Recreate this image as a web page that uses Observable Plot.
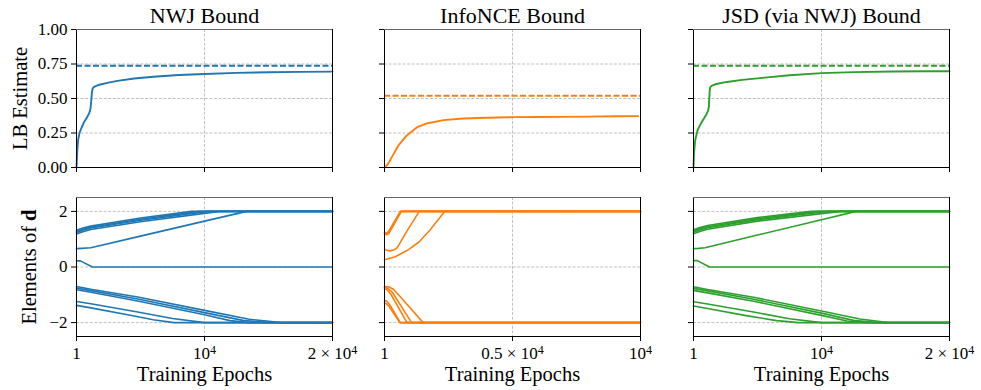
<!DOCTYPE html>
<html>
<head>
<meta charset="utf-8">
<script src="https://cdn.jsdelivr.net/npm/d3@7"></script>
<script src="https://cdn.jsdelivr.net/npm/@observablehq/plot@0.6"></script>
<style>
  body { margin: 0; background: #fff; }
  #fig { position: relative; width: 981px; height: 390px; overflow: hidden; font-family: "Liberation Serif", serif; }
  #fig svg { position: absolute; }
</style>
</head>
<body>
<div id="fig"></div>
<script>
// ---------- labels ----------
const titles = ["NWJ Bound", "InfoNCE Bound", "JSD (via NWJ) Bound"];
const colors = ["#1f77b4", "#ff7f0e", "#2ca02c"];
const xMax = [20000, 10000, 20000];
const xTicks = [[1, 10000, 20000], [1, 5000, 10000], [1, 10000, 20000]];
const xTickLabels = [["1", "10^4", "2 × 10^4"], ["1", "0.5 × 10^4", "10^4"], ["1", "10^4", "2 × 10^4"]];
const lbTicks = [0, 0.25, 0.5, 0.75, 1.0];
const dTicks = [-2, 0, 2];
const topYLabel = "LB Estimate";
const bottomYLabel = "Elements of d";
const xLabel = "Training Epochs";

// ---------- top row: lower-bound estimates ----------
const trueValue = [0.737, 0.52, 0.738];

const nwjEpoch = [1, 60, 130, 235, 400, 600, 800, 1000, 1100, 1150, 1200, 1260, 1350, 1500, 1800, 2500, 3200, 4500, 6000, 8000, 10000, 12500, 15000, 17500, 20000];
const nwjEst   = [0, 0.12, 0.2, 0.25, 0.29, 0.33, 0.36, 0.395, 0.43, 0.48, 0.54, 0.572, 0.583, 0.59, 0.60, 0.615, 0.628, 0.645, 0.658, 0.67, 0.678, 0.686, 0.69, 0.693, 0.695];

const infoEpoch = [1, 130, 286, 546, 871, 1261, 1651, 2301, 3081, 4000, 5005, 6000, 6981, 8000, 9000, 9906];
const infoEst   = [0, 0.024, 0.075, 0.16, 0.232, 0.29, 0.319, 0.343, 0.355, 0.36, 0.365, 0.366, 0.367, 0.369, 0.371, 0.372];

const jsdEpoch = [1, 40, 130, 312, 500, 650, 850, 1040, 1150, 1200, 1230, 1260, 1300, 1400, 1700, 2600, 3800, 5200, 7500, 10000, 12500, 15600, 18000, 20000];
const jsdEst   = [0, 0.1, 0.196, 0.268, 0.305, 0.33, 0.36, 0.39, 0.415, 0.44, 0.49, 0.55, 0.58, 0.592, 0.603, 0.62, 0.635, 0.648, 0.668, 0.684, 0.691, 0.696, 0.697, 0.698];

// ---------- bottom row: elements of d, one [epoch, value] list per element ----------
const nwjElements = [
  [[1, 1.32], [500, 1.40], [1120, 1.47], [5000, 1.76], [9000, 2], [20000, 2]],
  [[1, 1.28], [500, 1.36], [1120, 1.43], [5000, 1.72], [9600, 2], [20000, 2]],
  [[1, 1.24], [500, 1.32], [1120, 1.40], [5000, 1.68], [10300, 2], [20000, 2]],
  [[1, 1.19], [500, 1.27], [1120, 1.35], [5000, 1.63], [11200, 2], [20000, 2]],
  [[1, 0.66], [400, 0.67], [1120, 0.69], [5000, 1.11], [10000, 1.65], [13300, 2], [20000, 2]],
  [[1, 0.22], [300, 0.22], [1250, 0], [20000, 0]],
  [[1, -0.70], [1120, -0.80], [4780, -1.08], [10000, -1.56], [13500, -1.88], [16000, -2], [20000, -2]],
  [[1, -0.76], [1120, -0.85], [4780, -1.15], [10000, -1.64], [13000, -1.92], [15000, -2], [20000, -2]],
  [[1, -0.82], [1120, -0.91], [4780, -1.22], [10000, -1.72], [12000, -1.93], [13500, -2], [20000, -2]],
  [[1, -1.24], [1120, -1.32], [4780, -1.62], [7500, -1.85], [10000, -2], [20000, -2]],
  [[1, -1.38], [1120, -1.47], [4000, -1.72], [6000, -1.90], [7600, -2], [20000, -2]]
];

const infoElements = [
  [[1, 1.25], [60, 1.21], [150, 1.26], [620, 2], [10000, 2]],
  [[1, 1.22], [70, 1.18], [160, 1.23], [640, 2], [10000, 2]],
  [[1, 1.19], [80, 1.16], [170, 1.20], [660, 2], [10000, 2]],
  [[1, 0.64], [100, 0.60], [220, 0.58], [380, 0.62], [500, 0.70], [870, 1.28], [1360, 2], [10000, 2]],
  [[1, 0.26], [400, 0.36], [900, 0.60], [1350, 0.90], [1780, 1.33], [2350, 2], [10000, 2]],
  [[1, -0.70], [150, -0.71], [350, -0.80], [600, -1.05], [1510, -2], [10000, -2]],
  [[1, -0.73], [120, -0.76], [300, -0.90], [1060, -2], [10000, -2]],
  [[1, -0.78], [100, -0.82], [250, -0.98], [880, -2], [10000, -2]],
  [[1, -1.22], [80, -1.22], [200, -1.35], [620, -2], [10000, -2]],
  [[1, -1.30], [60, -1.31], [180, -1.42], [600, -2], [10000, -2]]
];

const jsdElements = [
  [[1, 1.34], [500, 1.42], [1100, 1.49], [5000, 1.78], [9200, 2], [20000, 2]],
  [[1, 1.30], [500, 1.38], [1100, 1.45], [5000, 1.74], [9800, 2], [20000, 2]],
  [[1, 1.25], [500, 1.33], [1100, 1.41], [5000, 1.70], [10500, 2], [20000, 2]],
  [[1, 1.20], [500, 1.28], [1100, 1.36], [5000, 1.65], [11500, 2], [20000, 2]],
  [[1, 0.66], [400, 0.67], [900, 0.69], [5000, 1.15], [10000, 1.70], [12700, 2], [20000, 2]],
  [[1, 0.23], [300, 0.23], [1250, 0], [20000, 0]],
  [[1, -0.71], [1100, -0.81], [4800, -1.10], [10000, -1.58], [13000, -1.87], [15200, -2], [20000, -2]],
  [[1, -0.77], [1100, -0.86], [4800, -1.17], [10000, -1.66], [12500, -1.92], [14300, -2], [20000, -2]],
  [[1, -0.84], [1100, -0.93], [4800, -1.24], [10000, -1.74], [12000, -1.94], [13500, -2], [20000, -2]],
  [[1, -1.25], [1100, -1.33], [4800, -1.63], [7500, -1.86], [10000, -2], [20000, -2]],
  [[1, -1.40], [1100, -1.49], [4000, -1.74], [6500, -1.93], [8200, -2], [20000, -2]]
];

// ---------- build ----------
const estimates = [[nwjEpoch, nwjEst], [infoEpoch, infoEst], [jsdEpoch, jsdEst]];
const elements = [nwjElements, infoElements, jsdElements];

const fig = document.getElementById("fig");
const NS = "http://www.w3.org/2000/svg";
const colLeft = [76, 384, 693];
const FW = 256;
const mL = 76, mR = 40;
const FONT = "'Liberation Serif', serif";
const gridStyle = {stroke: "#b0b0b0", strokeOpacity: 1, strokeWidth: 0.8, strokeDasharray: "3,1.6"};
const svgStyle = {background: "transparent", fontFamily: FONT, fontSize: "17px", color: "#000", overflow: "visible"};

function fixText(svg) {
  svg.querySelectorAll("text").forEach(t => {
    const s = t.textContent;
    if (s.includes("^")) {
      const [base, sup] = s.split("^");
      t.textContent = "";
      const a = document.createElementNS(NS, "tspan"); a.textContent = base; t.appendChild(a);
      const b = document.createElementNS(NS, "tspan"); b.textContent = sup;
      b.setAttribute("dy", "-0.42em"); b.setAttribute("font-size", "12px"); t.appendChild(b);
    } else if (s === "Elements of d") {
      t.textContent = "";
      const a = document.createElementNS(NS, "tspan"); a.textContent = "Elements of "; t.appendChild(a);
      const b = document.createElementNS(NS, "tspan"); b.textContent = "d"; b.setAttribute("font-weight", "bold"); t.appendChild(b);
    }
  });
}

function place(svg, left, top) {
  svg.style.left = left + "px";
  svg.style.top = top + "px";
  fixText(svg);
  fig.appendChild(svg);
}

for (let i = 0; i < 3; i++) {
  const [ep, est] = estimates[i];
  const topRows = ep.map((e, k) => ({epoch: e, value: est[k]}));
  const topPlot = Plot.plot({
    width: mL + FW + mR, height: 190,
    marginLeft: mL, marginRight: mR, marginTop: 29, marginBottom: 23,
    style: svgStyle,
    x: {domain: [1, xMax[i]]},
    y: {domain: [0, 1]},
    marks: [
      Plot.gridY(lbTicks, gridStyle),
      Plot.gridX(xTicks[i], gridStyle),
      Plot.ruleY([trueValue[i]], {stroke: colors[i], strokeWidth: 2, strokeDasharray: "6,2.5"}),
      Plot.line(topRows, {x: "epoch", y: "value", stroke: colors[i], strokeWidth: 1.9}),
      Plot.axisY(lbTicks, {tickSize: 5, tickPadding: 4, label: null, tickFormat: i === 0 ? (d => d.toFixed(2)) : (() => "")}),
      Plot.axisX(xTicks[i], {tickSize: 5, label: null, tickFormat: () => ""}),
      Plot.frame({stroke: "#000"}),
      Plot.ruleY([1], {stroke: "#666"}),
      Plot.text([titles[i]], {frameAnchor: "top", dy: -14, fontSize: 22, lineAnchor: "middle", textAnchor: "middle"}),
      i === 0 ? Plot.text([topYLabel], {frameAnchor: "left", rotate: -90, dx: -56.5, fontSize: 20.5, lineAnchor: "middle", textAnchor: "middle"}) : null
    ]
  });
  place(topPlot, colLeft[i] - mL, 0);

  const rows = elements[i].flatMap((pts, j) => pts.map(([e, v]) => ({line: j, epoch: e, value: v})));
  const labelMap = new Map(xTicks[i].map((t, k) => [t, xTickLabels[i][k]]));
  const botPlot = Plot.plot({
    width: mL + FW + mR, height: 200,
    marginLeft: mL, marginRight: mR, marginTop: 7, marginBottom: 54,
    style: svgStyle,
    x: {domain: [1, xMax[i]]},
    y: {domain: [-2.5, 2.5]},
    marks: [
      Plot.gridY(dTicks, gridStyle),
      Plot.gridX(xTicks[i], gridStyle),
      Plot.line(rows, {x: "epoch", y: "value", z: "line", stroke: colors[i], strokeWidth: 1.6}),
      Plot.axisY(dTicks, {tickSize: 5, tickPadding: 4, label: null, tickFormat: i === 0 ? (d => d < 0 ? "−" + Math.abs(d) : String(d)) : (() => "")}),
      Plot.axisX(xTicks[i], {tickSize: 5, tickPadding: 5, label: null, tickFormat: d => labelMap.get(d)}),
      Plot.frame({stroke: "#000"}),
      Plot.ruleY([2.5], {stroke: "#666"}),
      Plot.text([xLabel], {frameAnchor: "bottom", dy: 38, fontSize: 20.5, lineAnchor: "middle", textAnchor: "middle"}),
      i === 0 ? Plot.text([bottomYLabel], {frameAnchor: "left", rotate: -90, dx: -47.5, fontSize: 20.5, lineAnchor: "middle", textAnchor: "middle"}) : null
    ]
  });
  place(botPlot, colLeft[i] - mL, 190);
}
</script>
</body>
</html>
